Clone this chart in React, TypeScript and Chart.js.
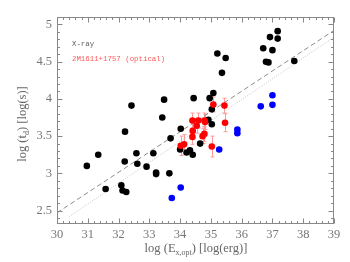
import { useEffect, useRef } from "react";
import { Chart, registerables } from "chart.js";
Chart.register(...registerables);

// X-ray flares (black)
const xrayE = [30.97, 31.34, 31.58, 32.09, 32.13, 32.25, 32.21, 32.2, 32.42, 32.58, 32.61, 32.91, 33.13, 33.22, 33.22, 33.65, 33.69, 33.42, 33.48, 34.02, 34.0, 34.21, 34.32, 34.41, 34.65, 34.44, 34.96, 35.08, 35.03, 34.92, 35.03, 35.36, 35.21, 35.48, 36.7, 37.0, 36.92, 37.17, 37.17, 36.79, 36.87, 37.71];
const xrayT = [3.1, 3.25, 2.79, 2.84, 2.77, 2.75, 3.56, 3.16, 3.91, 3.27, 3.13, 3.09, 3.27, 3.01, 2.99, 3.0, 3.47, 3.75, 3.99, 3.6, 3.32, 3.28, 3.31, 3.25, 3.4, 4.01, 4.01, 4.08, 3.86, 3.72, 3.66, 4.35, 4.61, 4.55, 4.68, 4.655, 4.83, 4.91, 4.81, 4.5, 4.49, 4.51];
// 2M1611+1757 optical flares (red)
const optE = [35.08, 35.44, 35.46, 34.4, 34.59, 34.79, 34.81, 34.54, 34.41, 34.4, 34.79, 34.73, 34.02, 34.13, 35.03];
const optT = [3.925, 3.91, 3.68, 3.71, 3.71, 3.71, 3.69, 3.64, 3.57, 3.49, 3.53, 3.5, 3.37, 3.39, 3.36];
const optErr = [0.1, 0.1, 0.12, 0.1, 0.1, 0.1, 0.1, 0.1, 0.1, 0.1, 0.1, 0.1, 0.13, 0.13, 0.14];
// other (blue)
const blueE = [33.73, 34.02, 35.27, 35.86, 35.86, 36.62, 37.0, 37.0];
const blueT = [2.67, 2.81, 3.32, 3.59, 3.54, 3.9, 4.05, 3.92];
// reference lines
const dashedE = [30, 39];
const dashedT = [2.47, 4.92];
const dottedE = [30.4, 39];
const dottedT = [2.42, 4.83];

const xTicks = [30, 31, 32, 33, 34, 35, 36, 37, 38, 39];
const yTicks = [2.5, 3, 3.5, 4, 4.5, 5];
const legendLabels = ["X-ray", "2M1611+1757 (optical)"];

const pts = (xs: number[], ys: number[]) => xs.map((x, i) => ({ x, y: ys[i] }));

const framePlugin = {
  id: "frame",
  beforeDatasetsDraw(chart: any) {
    const { ctx, scales } = chart;
    const x = scales.x, y = scales.y;
    ctx.save();
    ctx.strokeStyle = "#ff9a9a";
    ctx.lineWidth = 1;
    optE.forEach((e, i) => {
      const px = Math.round(x.getPixelForValue(e)) + 0.5;
      const p1 = y.getPixelForValue(optT[i] + optErr[i]);
      const p2 = y.getPixelForValue(optT[i] - optErr[i]);
      ctx.beginPath();
      ctx.moveTo(px, p1); ctx.lineTo(px, p2);
      ctx.moveTo(px - 2, p1); ctx.lineTo(px + 2, p1);
      ctx.moveTo(px - 2, p2); ctx.lineTo(px + 2, p2);
      ctx.stroke();
    });
    ctx.restore();
  },
  afterDraw(chart: any) {
    const { ctx, chartArea: a, scales } = chart;
    const x = scales.x, y = scales.y;
    ctx.save();
    ctx.strokeStyle = "#888";
    ctx.lineWidth = 1;
    const L = Math.round(a.left) + 0.5, R = Math.round(a.right) - 0.5;
    const T = Math.round(a.top) + 0.5, B = Math.round(a.bottom) - 0.5;
    ctx.strokeRect(L, T, R - L, B - T);
    ctx.beginPath();
    for (let k = 0; k <= 45; k++) {
      const v = 30 + k * 0.2;
      const len = k % 5 === 0 ? 5 : 2.5;
      const px = Math.round(x.getPixelForValue(v)) + 0.5;
      ctx.moveTo(px, B); ctx.lineTo(px, B - len);
      ctx.moveTo(px, T); ctx.lineTo(px, T + len);
    }
    for (let k = 24; k <= 51; k++) {
      const v = k * 0.1;
      const len = k % 5 === 0 ? 5 : 2.5;
      const py = Math.round(y.getPixelForValue(v)) + 0.5;
      if (py < T || py > B) continue;
      ctx.moveTo(L, py); ctx.lineTo(L + len, py);
      ctx.moveTo(R, py); ctx.lineTo(R - len, py);
    }
    ctx.stroke();

    // legend text
    ctx.font = "7.4px 'Liberation Mono'";
    ctx.textBaseline = "middle";
    ctx.textAlign = "left";
    ctx.fillStyle = "#606060";
    ctx.fillText(legendLabels[0], 72, 44.5);
    ctx.fillStyle = "#ff5a5a";
    ctx.fillText(legendLabels[1], 72, 59.5);

    // axis titles with subscripts
    const big = "12.5px 'Liberation Serif'";
    const small = "8px 'Liberation Serif'";
    const drawTitle = (parts: [string, boolean][], cx: number, cy: number, rot: number) => {
      ctx.save();
      ctx.translate(cx, cy);
      ctx.rotate(rot);
      ctx.fillStyle = "#666";
      ctx.textBaseline = "alphabetic";
      ctx.textAlign = "left";
      let w = 0;
      parts.forEach(([t, sub]) => { ctx.font = sub ? small : big; w += ctx.measureText(t).width; });
      let pos = -w / 2;
      parts.forEach(([t, sub]) => {
        ctx.font = sub ? small : big;
        ctx.fillText(t, pos, sub ? 6.5 : 4);
        pos += ctx.measureText(t).width;
      });
      ctx.restore();
    };
    drawTitle([["log (E", false], ["x,opt", true], [") [log(erg)]", false]], 196, 248, 0);
    drawTitle([["log (t", false], ["d", true], [") [log(s)]", false]], 22, 124, -Math.PI / 2);
    ctx.restore();
  },
};

export default function App() {
  const ref = useRef<HTMLCanvasElement>(null);
  useEffect(() => {
    if (!ref.current) return;
    const tickFont = { family: "'Liberation Serif'", size: 12.5 };
    const chart = new Chart(ref.current, {
      type: "scatter",
      data: {
        datasets: [
          { label: legendLabels[1], data: pts(optE, optT), backgroundColor: "#ff0000", pointRadius: 3.3, borderWidth: 0 },
          { label: legendLabels[0], data: pts(xrayE, xrayT), backgroundColor: "#000000", pointRadius: 3.3, borderWidth: 0 },
          { label: "other", data: pts(blueE, blueT), backgroundColor: "#0000ff", pointRadius: 3.3, borderWidth: 0 },
          { type: "line", label: "dashed", data: pts(dashedE, dashedT), borderColor: "#8c8c8c", borderWidth: 1, borderDash: [5, 3], pointRadius: 0, showLine: true } as any,
          { type: "line", label: "dotted", data: pts(dottedE, dottedT), borderColor: "#c4c4c4", borderWidth: 1, borderDash: [1, 1.5], pointRadius: 0, showLine: true } as any,
        ],
      },
      options: {
        animation: false,
        responsive: false,
        maintainAspectRatio: false,
        layout: { padding: { top: 17, right: 16, left: 0, bottom: 0 } },
        plugins: { legend: { display: false }, tooltip: { enabled: false } },
        scales: {
          x: {
            type: "linear", min: 30, max: 39,
            afterBuildTicks: (s: any) => { s.ticks = xTicks.map((v) => ({ value: v })); },
            afterFit: (s: any) => { s.height = 38; },
            grid: { display: false, drawTicks: false, tickLength: 0 },
            border: { display: false },
            ticks: { padding: 3, color: "#777", font: tickFont, maxRotation: 0, autoSkip: false, callback: (v: any) => String(v) },
          },
          y: {
            type: "linear", min: 2.32, max: 5.1,
            afterBuildTicks: (s: any) => { s.ticks = yTicks.map((v) => ({ value: v })); },
            afterFit: (s: any) => { s.width = 57; },
            grid: { display: false, drawTicks: false, tickLength: 0 },
            border: { display: false },
            ticks: { padding: 5, color: "#777", font: tickFont, autoSkip: false, callback: (v: any) => String(v) },
          },
        },
      },
      plugins: [framePlugin],
    } as any);
    return () => chart.destroy();
  }, []);
  return (
    <div style={{ position: "absolute", left: 0, top: 0, width: 350, height: 262 }}>
      <canvas ref={ref} width={350} height={262} />
    </div>
  );
}
